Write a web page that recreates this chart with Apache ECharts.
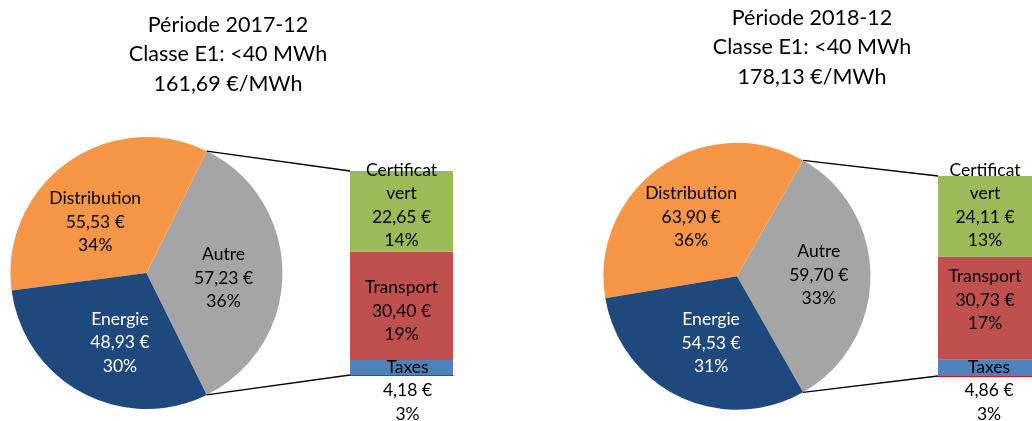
<!DOCTYPE html>
<html>
<head>
<meta charset="utf-8">
<script src="https://cdn.jsdelivr.net/npm/echarts@6/dist/echarts.min.js"></script>
<style>
html, body { margin: 0; padding: 0; background: #fff; }
#main { width: 1032px; height: 421px; }
</style>
</head>
<body>
<div id="main"></div>
<script>
// données
var periodes = ['2017-12', '2018-12'];
var prixTotal = [161.69, 178.13];
var pieCats = ['Autre', 'Distribution', 'Energie'];
var pie2017 = [57.23, 55.53, 48.93];
var pie2018 = [59.70, 63.90, 54.53];
var piePct2017 = [36, 34, 30];
var piePct2018 = [33, 36, 31];
var barCats = ['Taxes', 'Transport', 'Certificat vert'];
var bar2017 = [4.18, 30.40, 22.65];
var bar2018 = [4.86, 30.73, 24.11];
var barPct2017 = [3, 19, 14];
var barPct2018 = [3, 17, 13];

var pieColors = ['#A5A5A5', '#F79646', '#1F497D'];
var barColors = ['#4F81BD', '#C0504D', '#9BBB59'];
var police = 'Lato, "Open Sans", sans-serif';

// mise en page de chaque graphique
var layouts = [
  { cx: 146.5, cy: 273, r: 136, gl: 350, gt: 171, gw: 103, gh: 204, tx: 228, ty: 10,
    pieShift: [[6, 5], [-10, 7], [7, 7]], barShift: [[6, 23], [0, 5], [0, -6]] },
  { cx: 737, cy: 276.3, r: 133.5, gl: 938, gt: 176, gw: 103, gh: 200, tx: 812, ty: 3,
    pieShift: [[12, -1], [-6, -2], [4, 4]], barShift: [[4, 23], [0, -8], [0, -11]] }
];
var pies = [pie2017, pie2018];
var piePcts = [piePct2017, piePct2018];
var bars = [bar2017, bar2018];
var barPcts = [barPct2017, barPct2018];

function euro(v) { return v.toFixed(2).replace('.', ',') + ' €'; }

var series = [], grids = [], xAxes = [], yAxes = [], graphics = [];

layouts.forEach(function (L, k) {
  var vals = pies[k];
  var tot = vals.reduce(function (a, b) { return a + b; }, 0);
  var demi = vals[0] / tot * 180;

  series.push({
    type: 'pie',
    center: [L.cx, L.cy],
    radius: L.r,
    startAngle: -demi,
    clockwise: false,
    silent: true,
    animation: false,
    data: pieCats.map(function (n, i) {
      return { name: n, value: vals[i], itemStyle: { color: pieColors[i] },
               label: { color: i === 2 ? '#fff' : '#000' } };
    }),
    label: {
      show: true, position: 'inside', fontSize: 17.5, lineHeight: 23.5, fontFamily: police,
      formatter: function (p) { return p.name + '\n' + euro(p.value) + '\n' + piePcts[k][p.dataIndex] + '%'; }
    },
    labelLine: { show: false },
    labelLayout: function (p) { var s = L.pieShift[p.dataIndex]; return { dx: s[0], dy: s[1] }; }
  });

  var bv = bars[k];
  var somme = bv.reduce(function (a, b) { return a + b; }, 0);
  grids.push({ left: L.gl, top: L.gt, width: L.gw, height: L.gh });
  xAxes.push({
    type: 'category', gridIndex: k, data: ['x'], z: 5,
    axisLine: { show: true, lineStyle: { color: '#FF0000', width: 1 } },
    axisTick: { show: false }, axisLabel: { show: false }, splitLine: { show: false }
  });
  yAxes.push({ type: 'value', gridIndex: k, min: 0, max: somme, show: false, splitLine: { show: false } });

  barCats.forEach(function (n, i) {
    series.push({
      type: 'bar', name: n, xAxisIndex: k, yAxisIndex: k, stack: 'b' + k,
      barWidth: '100%', silent: true, animation: false,
      itemStyle: { color: barColors[i] },
      data: [bv[i]],
      label: {
        show: true, position: 'inside', color: '#000', fontSize: 17.5, lineHeight: 23.5,
        fontFamily: police, offset: L.barShift[i],
        formatter: function () { return n.replace(' ', '\n') + '\n' + euro(bv[i]) + '\n' + barPcts[k][i] + '%'; }
      }
    });
  });

  // lignes de liaison camembert -> barre
  var px = L.cx + L.r * Math.cos(demi * Math.PI / 180);
  var dy = L.r * Math.sin(demi * Math.PI / 180);
  graphics.push({ type: 'line', silent: true, z: 10,
    shape: { x1: px, y1: L.cy - dy, x2: L.gl, y2: L.gt }, style: { stroke: '#000', lineWidth: 1.3 } });
  graphics.push({ type: 'line', silent: true, z: 10,
    shape: { x1: px, y1: L.cy + dy, x2: L.gl, y2: L.gt + L.gh }, style: { stroke: '#000', lineWidth: 1.3 } });

  graphics.push({ type: 'text', silent: true, x: L.tx, y: L.ty,
    style: { text: 'Période ' + periodes[k] + '\nClasse E1: <40 MWh\n' + prixTotal[k].toFixed(2).replace('.', ',') + ' €/MWh',
             fill: '#000', font: '21.5px ' + police, lineHeight: 29.5, align: 'center', verticalAlign: 'top' } });
});

var chart = echarts.init(document.getElementById('main'));
chart.setOption({
  animation: false,
  grid: grids, xAxis: xAxes, yAxis: yAxes,
  series: series,
  graphic: graphics
});
</script>
</body>
</html>
